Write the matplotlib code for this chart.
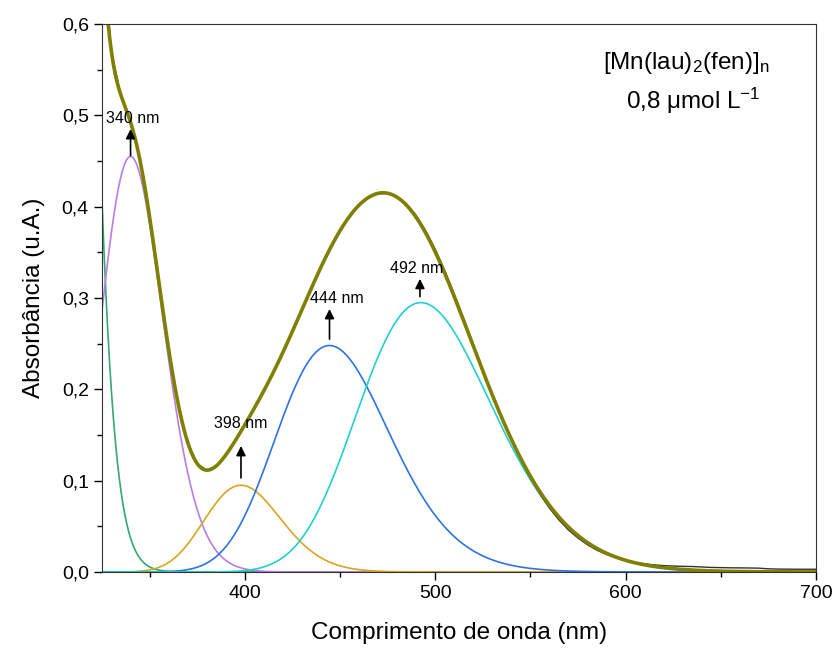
import numpy as np
import matplotlib.pyplot as plt

plt.rcParams['font.family'] = ['Liberation Sans', 'DejaVu Sans']
plt.rcParams['mathtext.fontset'] = 'custom'
plt.rcParams['mathtext.rm'] = 'Liberation Sans'
plt.rcParams['mathtext.it'] = 'Liberation Sans:italic'

# bandas gaussianas (em numero de onda): centro (nm), altura, largura (cm-1)
centros = [293.6, 340, 398, 444.5, 492.5]
alturas = [4.52, 0.455, 0.095, 0.248, 0.295]
larguras = [1500, 1410, 1262, 1500, 1450]
cores = ['#34a870', '#b57ee8', '#d9a520', '#2f73e0', '#20d0d0']
rotulos = ['340 nm', '398 nm', '444 nm', '492 nm']

# espectro experimental, 325-700 nm a cada 5 nm
lam_exp = np.arange(325, 701, 5)
espectro = [0.6937, 0.5689, 0.5217, 0.4925, 0.4504, 0.3889, 0.316, 0.2441,
            0.1842, 0.1421, 0.1187, 0.1115, 0.1161, 0.1281, 0.1438, 0.1611,
            0.1793, 0.1984, 0.2186, 0.2403, 0.2634, 0.2871, 0.3109, 0.3338,
            0.3549, 0.3736, 0.3894, 0.4012, 0.4096, 0.4142, 0.4146, 0.4110,
            0.4030, 0.3905, 0.3738, 0.3535, 0.3302, 0.3046, 0.2776, 0.2500,
            0.2222, 0.1952, 0.1690, 0.1450, 0.1230, 0.1030, 0.0855, 0.0700,
            0.0570, 0.0460, 0.0372, 0.0298, 0.0238, 0.0192, 0.0155, 0.0127,
            0.0105, 0.0090, 0.0078, 0.0070, 0.0065, 0.0062, 0.0060, 0.0055,
            0.0050, 0.0048, 0.0046, 0.0045, 0.0044, 0.0042, 0.0035, 0.0032,
            0.0031, 0.0030, 0.0030, 0.0030]

def banda(l, c, h, w):
    return h*np.exp(-(1e7/l - 1e7/c)**2/(2*w**2))

lam = np.linspace(325, 700, 751)
bandas = [banda(lam, c, h, w) for c, h, w in zip(centros, alturas, larguras)]
ajuste = np.sum(bandas, axis=0)

fig = plt.figure(figsize=(8.36, 6.5), dpi=100)
ax = fig.add_axes([0.122, 0.12, 0.854, 0.843])

ax.plot(lam, np.zeros_like(lam), color='#b06060', lw=1.2)
for b, cor in zip(bandas, cores):
    ax.plot(lam, b, color=cor, lw=1.2)
ax.plot(lam_exp, espectro, color='#333333', lw=1.0)
ax.plot(lam, ajuste, color='#808000', lw=2.6)

# setas e rotulos dos picos
setas = [(340, 0.456, 0.485, 341, 0.497), (398, 0.103, 0.138, 397.6, 0.163),
         (444.5, 0.255, 0.288, 448.4, 0.300), (492, 0.3015, 0.321, 490, 0.332)]
for (x, y0, y1, xt, yt), r in zip(setas, rotulos):
    ax.annotate('', xy=(x, y1), xytext=(x, y0),
                arrowprops=dict(arrowstyle='-|>', color='k', lw=1.2, mutation_scale=14, shrinkA=0, shrinkB=0))
    ax.text(xt, yt, r, fontsize=11.5, ha='center', va='center')

ax.text(631.8, 0.557, r'[Mn(lau)$_2$(fen)]$_\mathrm{n}$', fontsize=17.5, ha='center', va='center')
ax.text(635.5, 0.516, '0,8 μmol L$^{-1}$', fontsize=17.5, ha='center', va='center')

ax.set_xlim(325, 700)
ax.set_ylim(0, 0.6)
ax.set_xticks([400, 500, 600, 700])
ax.set_xticks([350, 450, 550, 650], minor=True)
yt = np.arange(0, 0.61, 0.1)
ax.set_yticks(yt)
ax.set_yticks(np.arange(0.05, 0.6, 0.1), minor=True)
ax.set_yticklabels([('%.1f' % v).replace('.', ',') for v in yt])
ax.tick_params(which='major', direction='out', length=6, width=1, labelsize=14)
ax.tick_params(which='minor', direction='out', length=3.3, width=1)
for s in ax.spines.values():
    s.set_color('#333333')
ax.set_xlabel('Comprimento de onda (nm)', fontsize=17.5, labelpad=14)
ax.set_ylabel('Absorbância (u.A.)', fontsize=17.5, labelpad=12)

plt.savefig('out.png', dpi=100)
